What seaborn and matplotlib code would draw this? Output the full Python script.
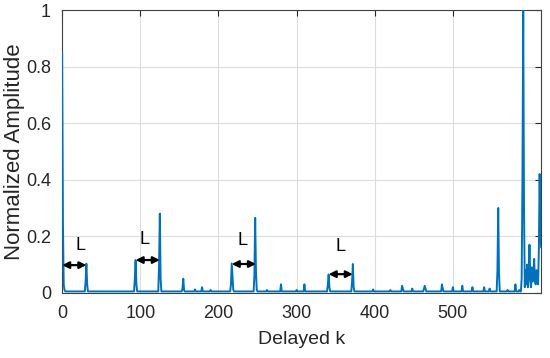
import numpy as np
import pandas as pd
import matplotlib
matplotlib.use("Agg")
import matplotlib.pyplot as plt
import seaborn as sns

# delay axis 0..613, quiet floor level
n_delay = 614
floor_level = 0.005

# spikes (delay index, normalized amplitude)
spike_k = [0, 1, 2, 3, 30, 31, 32, 93, 94, 95, 124, 125, 126, 154, 155, 156,
           170, 179, 190, 216, 217, 218, 219, 246, 247, 248, 249, 262, 280, 300,
           310, 340, 341, 342, 371, 372, 373, 398, 420, 435, 436, 448, 463, 464,
           465, 486, 487, 500, 512, 525, 540, 547, 557, 558, 559, 570, 580, 585,
           588, 589, 590, 591, 592, 593, 594, 595, 596, 597, 598, 599, 600, 601,
           602, 603, 604, 605, 606, 607, 608, 609, 610, 611, 612, 613]
spike_v = [0.85, 0.25, 0.03, 0.01, 0.04, 0.103, 0.03, 0.05, 0.116, 0.03, 0.10,
           0.28, 0.05, 0.015, 0.05, 0.01, 0.012, 0.02, 0.01, 0.03, 0.104, 0.06,
           0.01, 0.06, 0.265, 0.08, 0.01, 0.01, 0.03, 0.01, 0.03, 0.03, 0.065,
           0.02, 0.04, 0.102, 0.02, 0.012, 0.01, 0.025, 0.015, 0.015, 0.015,
           0.025, 0.015, 0.03, 0.015, 0.02, 0.025, 0.02, 0.02, 0.015, 0.08, 0.30,
           0.07, 0.01, 0.03, 0.01, 0.05, 0.4, 1.0, 0.3, 0.02, 0.08, 0.03, 0.10,
           0.02, 0.06, 0.17, 0.05, 0.02, 0.09, 0.04, 0.06, 0.12, 0.04, 0.03, 0.08,
           0.05, 0.03, 0.15, 0.42, 0.2, 0.16]

# period markers: arrow start, arrow end, arrow height, label x, label y
arrow_x0 = [0, 94, 217, 341]
arrow_x1 = [31, 125, 248, 372]
arrow_y = [0.098, 0.116, 0.102, 0.066]
label_x = [24, 106, 231, 356]
label_y = [0.168, 0.19, 0.185, 0.165]

amp = np.full(n_delay, floor_level)
amp[spike_k] = spike_v
df = pd.DataFrame({"k": np.arange(n_delay), "amp": amp})

sns.set_style("whitegrid")
plt.rcParams["font.family"] = ["Liberation Sans", "DejaVu Sans"]

fig = plt.figure(figsize=(5.5, 3.58), dpi=100)
ax = fig.add_axes([0.113, 0.182, 0.871, 0.79])
sns.lineplot(data=df, x="k", y="amp", color="#0072BD", lw=1.4, ax=ax, zorder=3)

for x0, x1, y in zip(arrow_x0, arrow_x1, arrow_y):
    ax.annotate("", xy=(x1, y), xytext=(x0, y),
                arrowprops=dict(arrowstyle="<|-|>", color="black", lw=1.6,
                                mutation_scale=10, shrinkA=0, shrinkB=0),
                zorder=4)
for x, y in zip(label_x, label_y):
    ax.text(x, y, "L", fontsize=13, ha="center", va="center", color="black")

ax.set_xlim(0, n_delay - 1)
ax.set_ylim(0, 1)
ax.set_xticks([0, 100, 200, 300, 400, 500])
ax.set_yticks([0, 0.2, 0.4, 0.6, 0.8, 1])
ax.set_yticklabels(["0", "0.2", "0.4", "0.6", "0.8", "1"])
ax.set_xlabel("Delayed k", fontsize=14, color="#262626", labelpad=6)
ax.set_ylabel("Normalized Amplitude", fontsize=16, color="#262626", labelpad=1)
ax.tick_params(labelsize=13, direction="in", length=4, top=True, right=True,
               colors="#262626", width=0.8)
ax.tick_params(axis="x", pad=9)
ax.tick_params(axis="y", pad=8)
ax.grid(True, color="#dcdcdc", lw=0.8)
for s in ax.spines.values():
    s.set_color("#404040")
    s.set_linewidth(0.8)
    s.set_zorder(2.5)

fig.savefig("out.png", dpi=100)
